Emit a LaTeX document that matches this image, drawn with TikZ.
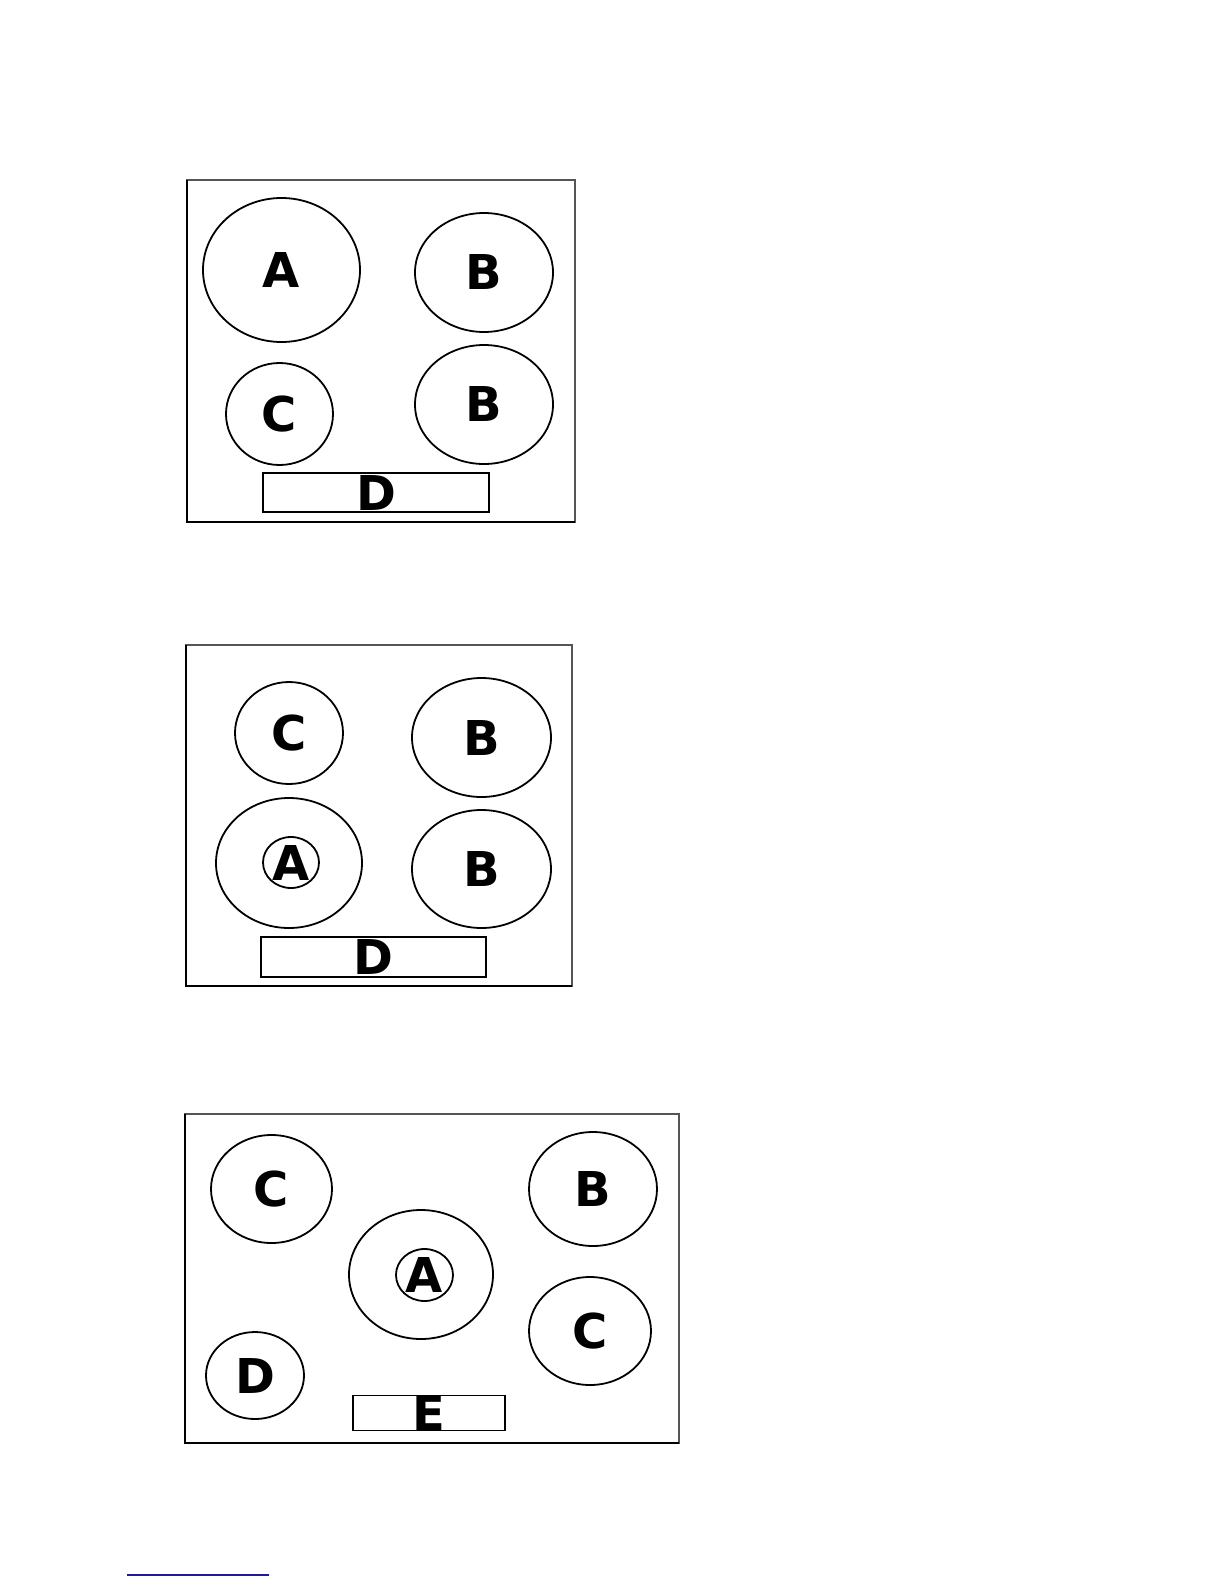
\documentclass[tikz,border=0pt]{standalone}
\usepackage{fontspec}
\setsansfont{DejaVu Sans}
\usetikzlibrary{shapes.geometric}
\definecolor{rahmenGrau}{HTML}{555555}
\definecolor{linkBlau}{HTML}{1A1A9A}

\begin{document}
\begin{tikzpicture}[x=0.5pt, y=-0.5pt, font={\sffamily\bfseries\fontsize{24}{24}\selectfont},
        zone/.style={ellipse, draw, line width=0.9pt, inner sep=0pt},
        strip/.style={draw, line width=0.8pt, inner sep=0pt},
        frame/.style={draw=rahmenGrau, line width=0.8pt},
        frameedge/.style={black, line width=1.4pt}]
        \useasboundingbox (0,0) rectangle (1224,1584);
        % panel 1
        \draw[frame] (187,180) rectangle (575,522);
        \draw[frameedge] (187,180) -- (187,522) -- (575,522);
        \node[zone, minimum width=78.5pt, minimum height=72pt] (a1) at (281.5,270) {A};
        \node[zone, minimum width=69pt, minimum height=59.5pt] (b1) at (484,272.5) {B};
        \node[zone, minimum width=53.5pt, minimum height=51pt] (c1) at (279.5,414) {C};
        \node[zone, minimum width=69pt, minimum height=59.5pt] (b2) at (484,404.5) {B};
        \node[strip, minimum width=113pt, minimum height=19.5pt] (d1) at (376,492.5) {D};
        % panel 2
        \draw[frame] (186,645) rectangle (572,986);
        \draw[frameedge] (186,645) -- (186,986) -- (572,986);
        \node[zone, minimum width=54pt, minimum height=51pt] (c2) at (289,733) {C};
        \node[zone, minimum width=69.5pt, minimum height=59.5pt] (b3) at (481.5,737.5) {B};
        \node[zone, minimum width=73pt, minimum height=65pt] (a2) at (289,863) {};
        \node[zone, minimum width=28pt, minimum height=25.5pt] (a2i) at (291,862.5) {A};
        \node[zone, minimum width=69.5pt, minimum height=59pt] (b4) at (481.5,869) {B};
        \node[strip, minimum width=112.5pt, minimum height=20pt] (d2) at (373.5,957) {D};
        % panel 3
        \draw[frame] (185,1114) rectangle (679,1443);
        \draw[frameedge] (185,1114) -- (185,1443) -- (679,1443);
        \node[zone, minimum width=60.5pt, minimum height=54pt] (c3) at (271.5,1189) {C};
        \node[zone, minimum width=64pt, minimum height=57pt] (b5) at (593,1189) {B};
        \node[zone, minimum width=72pt, minimum height=64.5pt] (a3) at (421,1274.5) {};
        \node[zone, minimum width=28.5pt, minimum height=26pt] (a3i) at (424.5,1275) {A};
        \node[zone, minimum width=61pt, minimum height=54pt] (c4) at (590,1331) {C};
        \node[zone, minimum width=49pt, minimum height=43.5pt] (d3) at (255,1375.5) {D};
        \node[strip, minimum width=76pt, minimum height=17pt] (e3) at (429,1413) {E};
        % blue rule
        \draw[linkBlau, line width=1pt] (127,1575) -- (269,1575);
    \end{tikzpicture}
\end{document}
